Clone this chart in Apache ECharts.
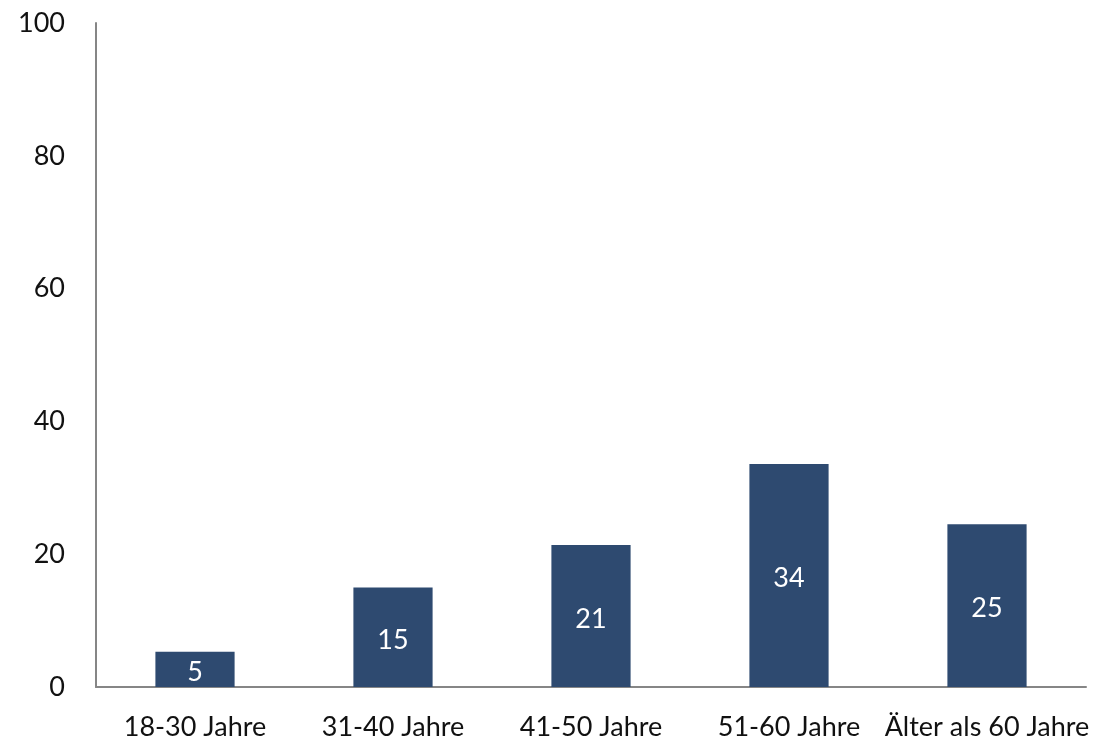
<!DOCTYPE html>
<html>
<head>
<meta charset="utf-8">
<script src="https://cdn.jsdelivr.net/npm/echarts@6/dist/echarts.min.js"></script>
<style>
  html, body { margin: 0; padding: 0; background: #fff; }
  #chart { width: 1102px; height: 743px; }
</style>
</head>
<body>
<div id="chart"></div>
<script>
const categories = ["18-30 Jahre", "31-40 Jahre", "41-50 Jahre", "51-60 Jahre", "Älter als 60 Jahre"];
const values = [5.3, 15.0, 21.4, 33.6, 24.5];
const yTicks = [0, 20, 40, 60, 80, 100];

const chart = echarts.init(document.getElementById("chart"));
chart.setOption({
  animation: false,
  textStyle: { fontFamily: "Lato, sans-serif" },
  grid: { left: 96, right: 16, top: 23, bottom: 56, containLabel: false },
  xAxis: {
    type: "category",
    data: categories,
    axisLine: { lineStyle: { color: "#868686", width: 2 } },
    axisTick: { show: false },
    axisLabel: { color: "#111", fontSize: 27, margin: 27, interval: 0 }
  },
  yAxis: {
    type: "value",
    min: yTicks[0],
    max: yTicks[yTicks.length - 1],
    interval: 20,
    axisLine: { show: true, lineStyle: { color: "#868686", width: 2 } },
    axisTick: { show: false },
    splitLine: { show: false },
    axisLabel: { color: "#111", fontSize: 27, margin: 31 }
  },
  series: [{
    type: "bar",
    data: values,
    barWidth: "40%",
    itemStyle: { color: "#2E4A70" },
    label: {
      show: true,
      position: "inside",
      offset: [0, 3],
      color: "#fff",
      fontSize: 27,
      formatter: p => Math.round(p.value)
    }
  }]
});
</script>
</body>
</html>
